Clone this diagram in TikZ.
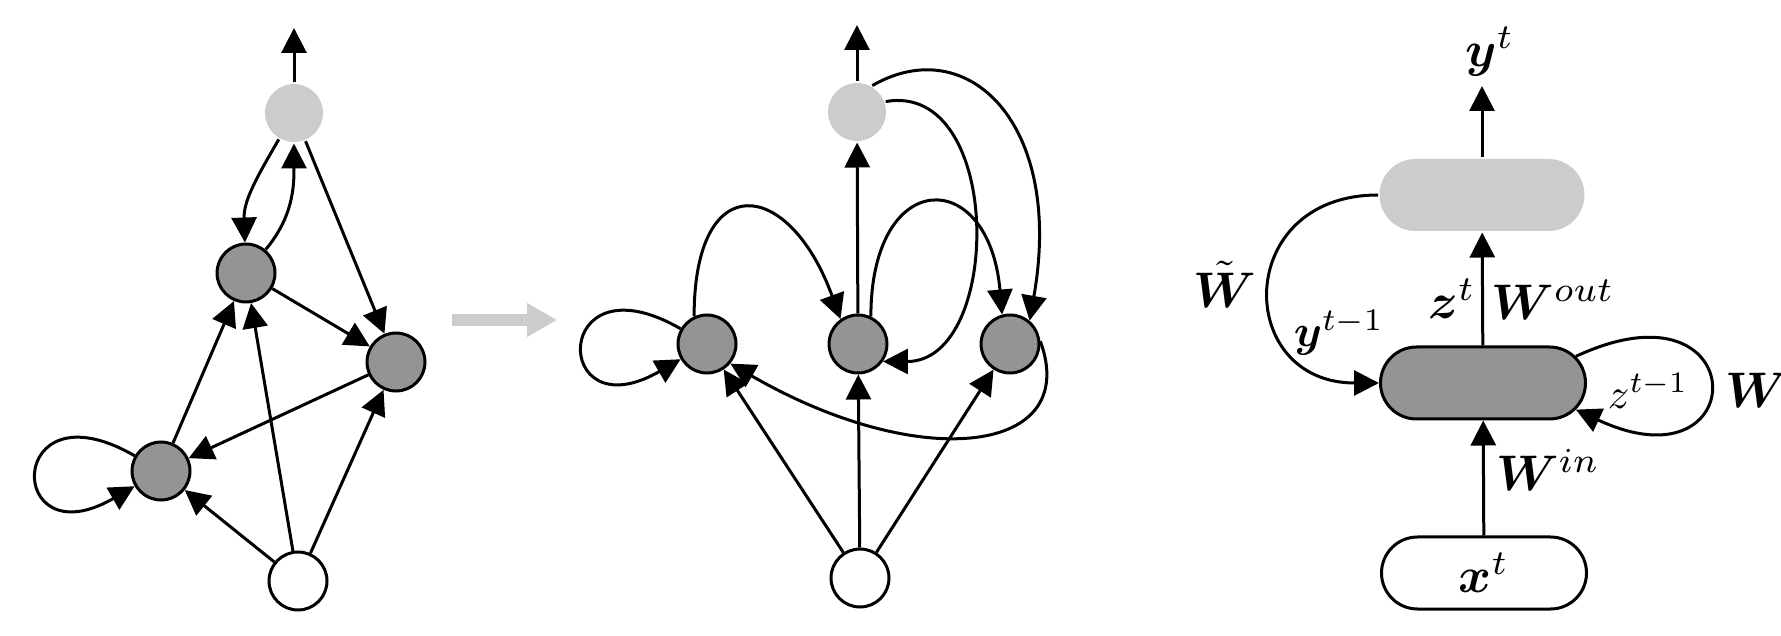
\documentclass[tikz,border=0pt]{standalone}
\usepackage{amsmath,bm}
\usetikzlibrary{arrows.meta,shapes.misc}

\begin{document}
\begin{tikzpicture}[x=1pt,y=1pt,line width=3pt,
  >={Triangle[length=25pt,width=25pt]},
  unit/.style={circle,inner sep=0pt,minimum size=58pt},
  hid/.style={unit,draw,fill=black!42},
  outp/.style={unit,fill=black!20},
  inp/.style={unit,draw,fill=white},
  selfloop/.style={out=150,in=210,distance=150pt},
  pill/.style={rounded rectangle,inner sep=0pt,minimum width=205pt,minimum height=72pt},
  lbl/.style={inner sep=0.4pt,scale=5}]
  \useasboundingbox (0,0) rectangle (1781,635);

  \node[outp] (lout) at (294,522) {};
  \node[hid] (lA) at (246,362) {};
  \node[hid] (lB) at (396,273) {};
  \node[hid] (lC) at (161,164) {};
  \node[inp] (lin) at (298,54) {};
  \coordinate (ltop) at (294,607);
  \draw[->] (lout) -- (ltop);
  \draw[->] (lout) to[out=-120,in=92] (lA);
  \draw[->] (lA) to[out=50,in=-90] (lout);
  \draw[->] (lout) -- (lB);
  \draw[->] (lA) -- (lB);
  \draw[->] (lB) -- (lC);
  \draw[->] (lC) -- (lA);
  \draw[->] (lin) -- (lC);
  \draw[->] (lin) -- (lA);
  \draw[->] (lin) -- (lB);
  \draw[->] (lC) to[selfloop] (lC);

  \coordinate (gs) at (452,315);
  \coordinate (ge) at (557,315);
  \draw[line width=12pt,black!20,-{Triangle[length=30pt,width=32pt]}] (gs) -- (ge);

  \node[outp] (mout) at (857,523) {};
  \node[hid] (mH1) at (707,291) {};
  \node[hid] (mH2) at (858,291) {};
  \node[hid] (mH3) at (1010,291) {};
  \node[inp] (min) at (860,57) {};
  \coordinate (mtop) at (857,610);
  \draw[->] (mout) -- (mtop);
  \draw[->] (mH2) -- (mout);
  \draw[->] (min) -- (mH1);
  \draw[->] (min) -- (mH2);
  \draw[->] (min) -- (mH3);
  \draw[->] (mH1) to[selfloop] (mH1);
  \draw[->] (mH1.115) to[out=90,in=110,distance=150pt] (mH2.125);
  \draw[->] (mH2.65) to[out=90,in=95,distance=150pt] (mH3.105);
  \draw[->] (mout.20) to[out=10,in=0,distance=120pt] (mH2.-35);
  \draw[->] (mout.60) .. controls +(30:110) and +(80:200) .. (mH3.50);
  \draw[->] (mH3.5) .. controls +(-70:120) and +(-30:220) .. (mH1.-40);

  \node[pill,fill=black!20] (rout) at (1482,440) {};
  \node[pill,draw,fill=black!42] (rhid) at (1483,252) {};
  \node[pill,draw,fill=white] (rin) at (1484,62) {};
  \node[lbl] (xlab) at (rin) {$\bm{x}^t$};
  \node[lbl,anchor=south] (ylab) at (1490,549) {$\bm{y}^t$};
  \draw[->] (rout) -- (rout.north |- ylab.south);
  \draw[->] (rhid) -- (rout);
  \draw[->] (rin) -- (rhid);
  \draw[->] (rout.west) to[out=180,in=180,distance=145pt] (rhid.west);
  \draw[->] (rhid.16) to[out=25,in=-25,distance=197pt] (rhid.-16);
  \node[lbl] (wt) at (1225,351) {$\tilde{\bm{W}}$};
  \node[lbl,scale=0.9] (yprev) at (1339,302) {$\bm{y}^{t-1}$};
  \node[lbl] (zt) at (1452,336) {$\bm{z}^t$};
  \node[lbl] (wout) at (1553,335) {$\bm{W}^{out}$};
  \node[lbl] (win) at (1548,165) {$\bm{W}^{in}$};
  \node[lbl,scale=0.85] (zprev) at (1648,244) {$z^{t-1}$};
  \node[lbl] (wrec) at (1757,245) {$\bm{W}$};
\end{tikzpicture}
\end{document}
